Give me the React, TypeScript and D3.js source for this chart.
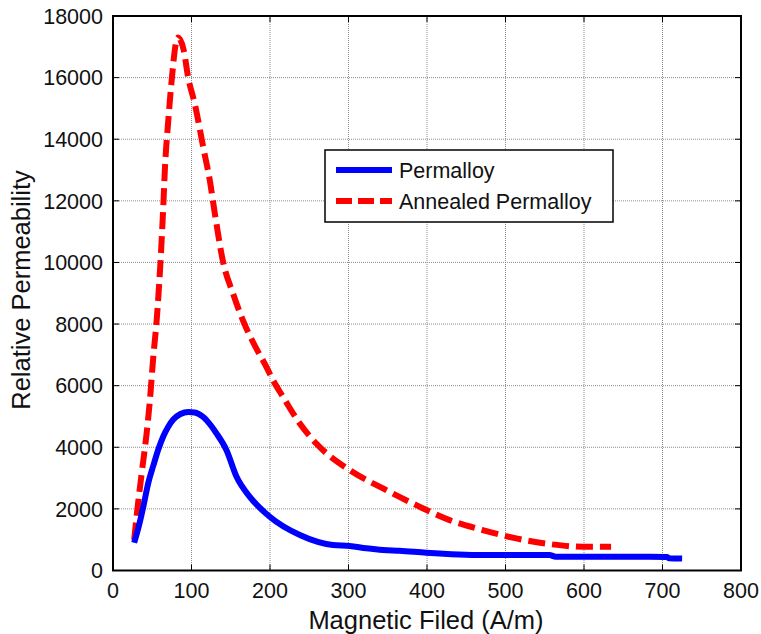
import React from "react";
import * as d3 from "d3";

const permX = [27, 33, 38.6, 45, 51.3, 58, 64, 70, 76.8, 86, 96, 104, 115, 125, 132, 144.6, 157.4, 174.3, 199.7, 238, 280, 301.5, 322.8, 344, 365, 399, 471, 556, 564, 683, 706, 708, 725];
const permY = [900, 1450, 2070, 2850, 3400, 3950, 4350, 4650, 4900, 5080, 5145, 5130, 4985, 4700, 4445, 3905, 3040, 2390, 1743, 1150, 826, 794, 719, 664, 640, 577, 502, 502, 447, 447, 440, 400, 390];

const annX = [27, 30, 36.5, 42.8, 47, 51.3, 55.6, 60.1, 64, 66, 70.4, 74.7, 80, 83, 90, 95.8, 104.3, 115, 123.4, 129.8, 140.3, 153, 165.8, 178.6, 195.5, 204, 216.7, 238, 259, 301.5, 344, 386.4, 428.8, 471, 513.6, 556, 598, 634.5];
const annY = [1000, 1743, 3150, 4445, 5525, 6928, 8117, 9845, 11790, 12975, 14600, 15900, 17100, 17300, 16900, 16000, 15140, 13730, 12650, 11575, 10007, 8983, 8100, 7400, 6604, 6170, 5632, 4770, 4120, 3257, 2663, 2122, 1636, 1312, 1042, 858, 771, 771];

const xTicks = [0, 100, 200, 300, 400, 500, 600, 700, 800];
const yTicks = [0, 2000, 4000, 6000, 8000, 10000, 12000, 14000, 16000, 18000];

const seriesNames = ["Permalloy", "Annealed Permalloy"];
const xLabel = "Magnetic Filed (A/m)";
const yLabel = "Relative Permeability";

export default function App() {
  const W = 761, H = 634;
  const L = 113, R = 741, T = 16, B = 570.5;
  const x = d3.scaleLinear().domain([0, 800]).range([L, R]);
  const y = d3.scaleLinear().domain([0, 18000]).range([B, T]);
  const line = d3.line<[number, number]>().x(d => x(d[0])).y(d => y(d[1])).curve(d3.curveMonotoneX);
  const permPts = permX.map((v, i) => [v, permY[i]] as [number, number]);
  const annPts = annX.map((v, i) => [v, annY[i]] as [number, number]);
  const font = "Liberation Sans, Arial, sans-serif";
  const tickLen = 6;

  return (
    <svg width={W} height={H} style={{ position: "absolute", left: 0, top: 0, background: "#fff" }} fontFamily={font}>
      <rect x={0} y={0} width={W} height={H} fill="#fff" />
      {xTicks.slice(1, -1).map(t => (
        <line key={"gx" + t} x1={x(t)} x2={x(t)} y1={T} y2={B} stroke="#8c8c8c" strokeWidth={1} strokeDasharray="1 1" />
      ))}
      {yTicks.slice(1, -1).map(t => (
        <line key={"gy" + t} x1={L} x2={R} y1={y(t)} y2={y(t)} stroke="#8c8c8c" strokeWidth={1} strokeDasharray="1 1" />
      ))}
      {xTicks.map(t => (
        <g key={"tx" + t}>
          <line x1={x(t)} x2={x(t)} y1={B} y2={B - tickLen} stroke="#000" strokeWidth={1} />
          <line x1={x(t)} x2={x(t)} y1={T} y2={T + tickLen} stroke="#000" strokeWidth={1} />
          <text x={x(t)} y={B + 27} textAnchor="middle" fontSize={21.5} fill="#111">{t}</text>
        </g>
      ))}
      {yTicks.map(t => (
        <g key={"ty" + t}>
          <line x1={L} x2={L + tickLen} y1={y(t)} y2={y(t)} stroke="#000" strokeWidth={1} />
          <line x1={R} x2={R - tickLen} y1={y(t)} y2={y(t)} stroke="#000" strokeWidth={1} />
          <text x={L - 10} y={y(t)} dy="0.36em" textAnchor="end" fontSize={21.5} fill="#111">{t}</text>
        </g>
      ))}
      <path d={line(annPts) || ""} fill="none" stroke="#ff0000" strokeWidth={6} strokeDasharray="17 7" />
      <path d={line(permPts) || ""} fill="none" stroke="#0000ff" strokeWidth={6} />
      <rect x={L} y={T} width={R - L} height={B - T} fill="none" stroke="#000" strokeWidth={2} />
      <g>
        <rect x={325} y={150} width={288} height={72} fill="#fff" stroke="#000" strokeWidth={1.5} />
        <line x1={336} x2={392} y1={170} y2={170} stroke="#0000ff" strokeWidth={6} />
        <text x={399} y={170} dy="0.36em" fontSize={21.5} fill="#111">{seriesNames[0]}</text>
        <line x1={336} x2={392} y1={201} y2={201} stroke="#ff0000" strokeWidth={6} strokeDasharray="16 6" />
        <text x={399} y={201} dy="0.36em" fontSize={21.5} fill="#111">{seriesNames[1]}</text>
      </g>
      <text x={426} y={629} textAnchor="middle" fontSize={25.5} fill="#111">{xLabel}</text>
      <text transform={`translate(30, 290) rotate(-90)`} textAnchor="middle" fontSize={25.5} fill="#111">{yLabel}</text>
    </svg>
  );
}
